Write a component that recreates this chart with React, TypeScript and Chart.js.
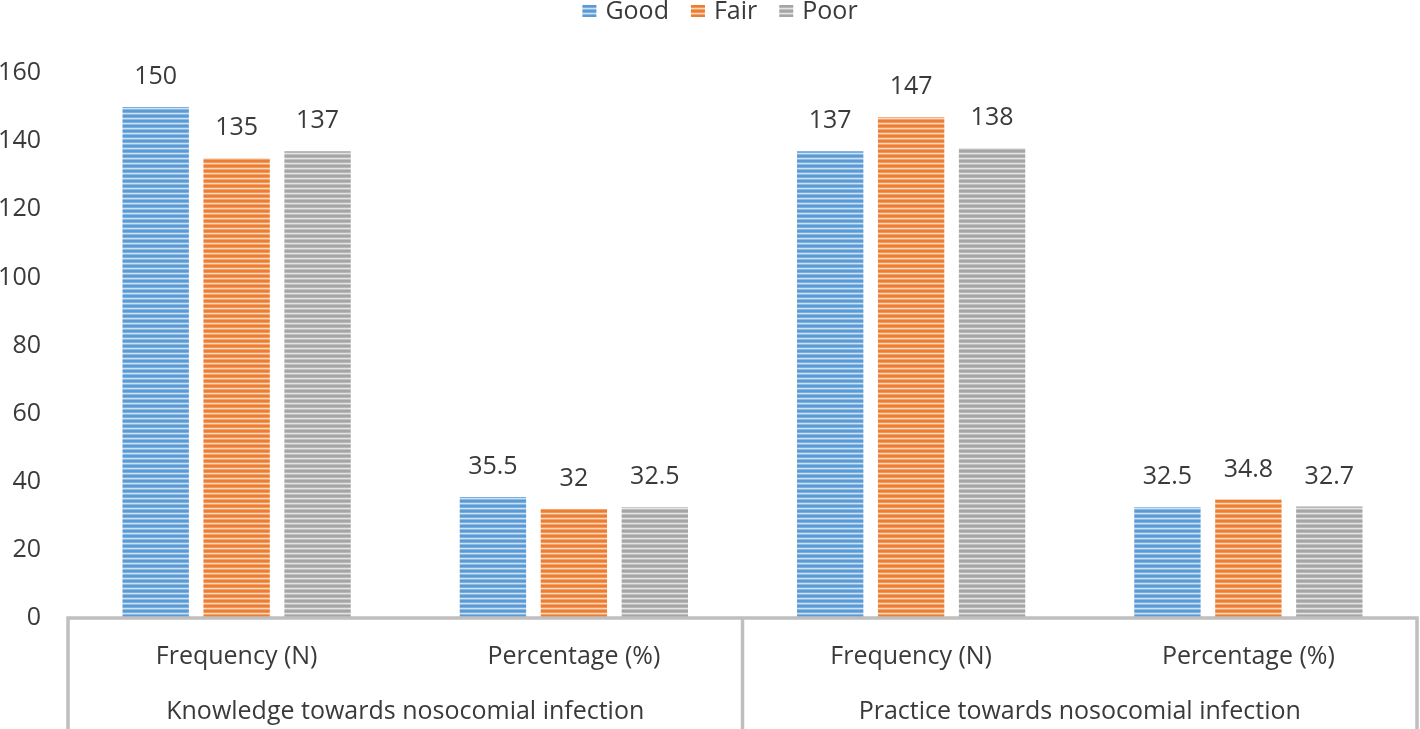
import React, { useEffect, useRef } from 'react';
import { Chart, registerables } from 'chart.js';

Chart.register(...registerables);

const categories = ['Frequency (N)', 'Percentage (%)', 'Frequency (N)', 'Percentage (%)'];
const groups = ['Knowledge towards nosocomial infection', 'Practice towards nosocomial infection'];
const seriesNames = ['Good', 'Fair', 'Poor'];
const good = [150, 35.5, 137, 32.5];
const fair = [135, 32, 147, 34.8];
const poor = [137, 32.5, 138, 32.7];
const yMin = 0;
const yMax = 160;
const yStep = 20;

const colors = ['#5B9BD5', '#ED7D31', '#A5A5A5'];
const FONT = '"Open Sans", sans-serif';
const FS = 25;
const TEXT = '#3a3a3a';
const BOX = '#BFBFBF';

function mix(hex: string, t: number): string {
  const n = parseInt(hex.slice(1), 16);
  const r = (n >> 16) & 255, g = (n >> 8) & 255, b = n & 255;
  const f = (c: number) => Math.round(c + (255 - c) * t);
  return `rgb(${f(r)},${f(g)},${f(b)})`;
}

function makePattern(hex: string): CanvasPattern | string {
  const c = document.createElement('canvas');
  c.width = 4;
  c.height = 5;
  const ctx = c.getContext('2d');
  if (!ctx) return hex;
  const rows = [mix(hex, 0), mix(hex, 0), mix(hex, 0.2), mix(hex, 0.7), mix(hex, 0.3)];
  rows.forEach((col, i) => {
    ctx.fillStyle = col;
    ctx.fillRect(0, i, 4, 1);
  });
  return ctx.createPattern(c, 'repeat') || hex;
}

export default function App() {
  const ref = useRef<HTMLCanvasElement>(null);

  useEffect(() => {
    document.body.style.margin = '0';
    const canvas = ref.current;
    if (!canvas) return;
    const patterns = colors.map(makePattern);
    const values = [good, fair, poor];

    const overlay = {
      id: 'overlay',
      afterDatasetsDraw(chart: any) {
        const ctx = chart.ctx as CanvasRenderingContext2D;
        ctx.save();
        ctx.font = `${FS}px ${FONT}`;
        ctx.fillStyle = TEXT;
        ctx.textAlign = 'center';
        ctx.textBaseline = 'middle';
        chart.data.datasets.forEach((ds: any, i: number) => {
          const meta = chart.getDatasetMeta(i);
          meta.data.forEach((el: any, j: number) => {
            ctx.fillText(String(ds.data[j]), el.x, el.y - 30);
          });
        });

        const { left, right, bottom } = chart.chartArea;
        const xs = chart.scales.x;
        const mid = (xs.getPixelForValue(1) + xs.getPixelForValue(2)) / 2;
        ctx.strokeStyle = BOX;
        ctx.lineWidth = 3.5;
        ctx.lineCap = 'square';
        ctx.beginPath();
        ctx.moveTo(left, bottom);
        ctx.lineTo(right, bottom);
        [left, mid, right].forEach((px) => {
          ctx.moveTo(px, bottom);
          ctx.lineTo(px, chart.height + 5);
        });
        ctx.stroke();

        groups.forEach((g, gi) => {
          const cx = gi === 0 ? (left + mid) / 2 : (mid + right) / 2;
          ctx.fillText(g, cx, 712);
        });

        // legend
        const boxW = 14, boxH = 12, gap = 9, itemGap = 22;
        const widths = seriesNames.map((s) => ctx.measureText(s).width);
        const total = widths.reduce((a, w) => a + boxW + gap + w, 0) + itemGap * (seriesNames.length - 1);
        let x = 720 - total / 2;
        const cy = 11;
        ctx.textAlign = 'left';
        seriesNames.forEach((s, i) => {
          ctx.fillStyle = patterns[i] as any;
          ctx.fillRect(x, cy - boxH / 2, boxW, boxH);
          ctx.fillStyle = TEXT;
          ctx.fillText(s, x + boxW + gap, cy + 1);
          x += boxW + gap + widths[i] + itemGap;
        });
        ctx.restore();
      },
    };

    const chart = new Chart(canvas, {
      type: 'bar',
      data: {
        labels: categories,
        datasets: seriesNames.map((name, i) => ({
          label: name,
          data: values[i],
          backgroundColor: patterns[i] as any,
          borderWidth: 0,
          barPercentage: 0.82,
          categoryPercentage: 0.72,
        })),
      },
      options: {
        responsive: true,
        maintainAspectRatio: false,
        animation: false,
        layout: { padding: { top: 73, right: 3, bottom: 0, left: 0 } },
        plugins: {
          legend: { display: false },
          tooltip: { enabled: false },
          title: { display: false },
        },
        scales: {
          x: {
            grid: { display: false, drawTicks: false },
            border: { display: false },
            ticks: {
              color: TEXT,
              font: { family: FONT, size: FS },
              padding: 24,
              maxRotation: 0,
              autoSkip: false,
            },
            afterFit: (s: any) => {
              s.height = 111;
            },
          },
          y: {
            min: yMin,
            max: yMax,
            grid: { display: false, drawTicks: false },
            border: { display: false },
            ticks: {
              stepSize: yStep,
              color: TEXT,
              font: { family: FONT, size: FS },
              padding: 27,
            },
            afterFit: (s: any) => {
              s.width = 68;
            },
          },
        },
      },
      plugins: [overlay],
    });
    return () => chart.destroy();
  }, []);

  return (
    <div style={{ position: 'relative', width: 1420, height: 729 }}>
      <canvas ref={ref} />
    </div>
  );
}
